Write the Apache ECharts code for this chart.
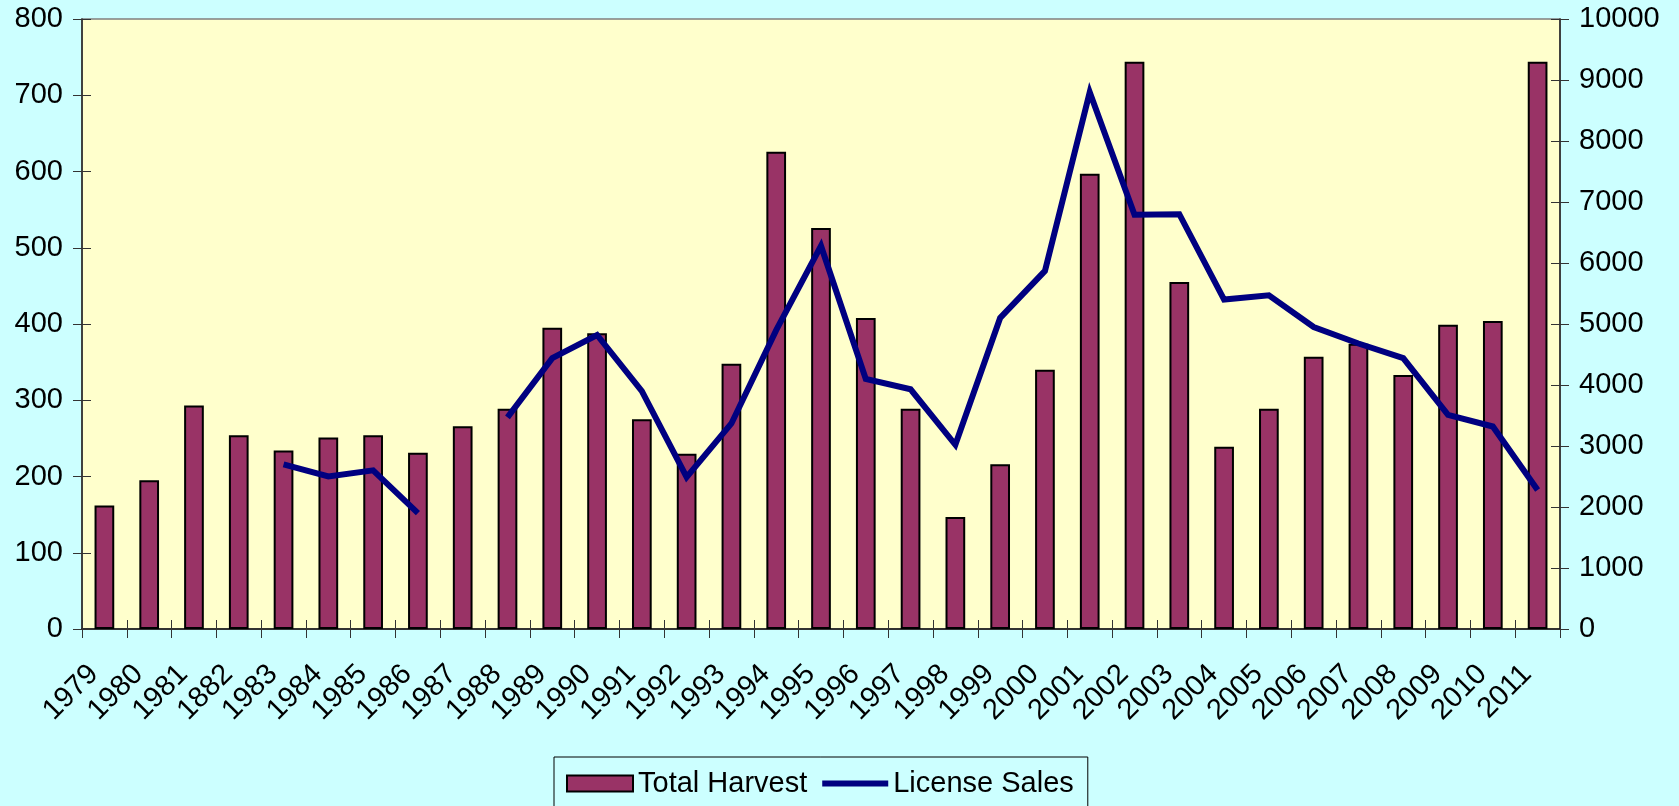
<!DOCTYPE html>
<html>
<head>
<meta charset="utf-8">
<script src="https://cdn.jsdelivr.net/npm/echarts@6/dist/echarts.min.js"></script>
<style>
html,body{margin:0;padding:0;background:#CCFFFF;}
#c{width:1679px;height:806px;}
</style>
</head>
<body>
<div id="c"></div>
<script>
const years = ['1979','1980','1981','1882','1983','1984','1985','1986','1987','1988','1989','1990','1991','1992','1993','1994','1995','1996','1997','1998','1999','2000','2001','2002','2003','2004','2005','2006','2007','2008','2009','2010','2011'];
const totalHarvest = [162,195,293,254,234,251,254,231,266,289,395,388,275,230,348,626,526,408,289,147,216,340,597,744,455,239,289,357,374,333,399,404,744];
const licenseSales = [null,null,null,null,2700,2500,2600,1900,null,3470,4440,4820,3900,2490,3370,4900,6280,4100,3930,3020,5100,5870,8800,6790,6800,5400,5470,4950,4680,4440,3510,3320,2280];
const leftAxis = {min:0, max:800, interval:100};
const rightAxis = {min:0, max:10000, interval:1000};

const FONT = '"Liberation Sans", Arial, sans-serif';
const chart = echarts.init(document.getElementById('c'), null, {renderer:'canvas'});

function yAx(scale, pos, main) {
  return {
    type:'value', min:scale.min, max:scale.max, interval:scale.interval, position:pos,
    axisLine:{show:main, lineStyle:{color:'#222', width:1.5}},
    axisTick:{show:true, inside:!main, length:9, lineStyle:{color:'#333', width:1}},
    axisLabel:{show:main, margin:19, fontSize:29, color:'#000', fontFamily:FONT,
               formatter:function(v){return String(v);}},
    splitLine:{show:false}
  };
}

chart.setOption({
  animation:false,
  backgroundColor:'#CCFFFF',
  grid:{left:82, right:119, top:19, bottom:177, show:true, backgroundColor:'#FFFFCC',
        borderColor:'#808080', borderWidth:1.5, containLabel:false, outerBoundsMode:'none'},
  legend:{
    left:554, top:757, orient:'horizontal',
    padding:[12,14,24,12], borderColor:'#000', borderWidth:1,
    itemWidth:66, itemHeight:16, itemGap:12,
    textStyle:{fontSize:29, fontFamily:FONT, color:'#000', lineHeight:28},
    data:[
      {name:'Total Harvest', icon:'rect', itemStyle:{borderColor:'#000', borderWidth:2}},
      {name:'License Sales', itemStyle:{opacity:0}, lineStyle:{width:6, color:'#000080'}}
    ]
  },
  xAxis:[
    {type:'category', data:years, position:'bottom', boundaryGap:true,
     axisLine:{show:true, lineStyle:{color:'#111', width:1.5}},
     axisTick:{show:true, inside:false, length:9, lineStyle:{color:'#333'}},
     axisLabel:{rotate:45, margin:30, interval:0, fontSize:29, color:'#000', fontFamily:FONT,
                padding:[0,15,0,0]},
     splitLine:{show:false}},
    {type:'category', data:years, position:'bottom', boundaryGap:true,
     axisLine:{show:false},
     axisTick:{show:true, inside:true, length:9, lineStyle:{color:'#333'}},
     axisLabel:{show:false}, splitLine:{show:false}}
  ],
  yAxis:[ yAx(leftAxis,'left',true), yAx(rightAxis,'right',true), yAx(leftAxis,'left',false), yAx(rightAxis,'right',false) ],
  series:[
    {name:'Total Harvest', type:'bar', xAxisIndex:0, yAxisIndex:0, data:totalHarvest,
     barCategoryGap:'56%',
     itemStyle:{color:'#993366', borderColor:'#000', borderWidth:2}, z:2},
    {name:'License Sales', type:'line', xAxisIndex:0, yAxisIndex:1, data:licenseSales,
     symbol:'none', connectNulls:false,
     lineStyle:{color:'#000080', width:6, join:'miter'}, itemStyle:{color:'#000080'}, z:5}
  ]
});
</script>
</body>
</html>
